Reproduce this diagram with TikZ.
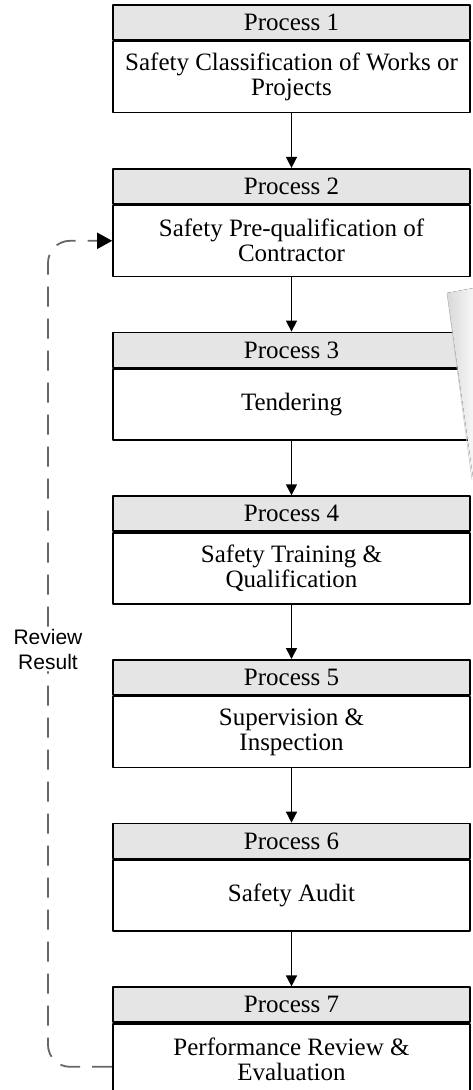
\documentclass[tikz,border=0pt]{standalone}
\usepackage{fontspec}
\setmainfont{Liberation Serif}
\newfontfamily\labelfont{Liberation Sans}
\usetikzlibrary{positioning,arrows.meta}
\tikzset{
  prochead/.style={draw,line width=1.6pt,fill=gray!20,minimum width=357pt,minimum height=35pt,inner sep=0pt,font=\fontsize{25}{25}\selectfont},
  procbody/.style={draw,line width=1.6pt,fill=white,minimum width=357pt,minimum height=71pt,inner sep=0pt,align=center,font=\fontsize{25}{25}\selectfont},
  flow/.style={line width=1.5pt,-{Triangle[length=11pt,width=11pt]}},
  feedback/.style={line width=1.8pt,black!60,dash pattern=on 20pt off 12pt,rounded corners=22pt}
}
\begin{document}
\begin{tikzpicture}[x=1pt,y=-1pt,line join=round]
\useasboundingbox (0,0) rectangle (472,1090);
\foreach \i/\txt in {1/{Safety Classification of Works or\\Projects},2/{Safety Pre-qualification of\\Contractor},3/{Tendering},4/{Safety Training \&\\Qualification},5/{Supervision \&\\Inspection},6/{Safety Audit},7/{Performance Review \&\\Evaluation}}{
  \node[prochead] (h\i) at (291.5,{22.5+(\i-1)*163.7}) {Process \i};
  \node[procbody,below=0pt of h\i] (b\i) {\txt};
}
\foreach \i [count=\j from 2] in {1,...,6}
  \draw[flow] (b\i) -- (h\j);
\node[font=\labelfont\fontsize{21}{25}\selectfont,align=center,inner sep=2pt] (rev) at (48,649) {Review\\Result};
\draw[feedback] ([yshift=-7.5pt]b7.west) -| (rev.south);
\draw[feedback,-{Triangle[length=15pt,width=16pt,color=black]}] (rev.north) |- (b2.west);
\fill[left color=gray!30,right color=gray!6] (447,293) -- (474,288) -- (474,484) -- cycle;
\draw[gray!45,line width=0.6pt] (447,293) -- (472,480);
\end{tikzpicture}
\end{document}
